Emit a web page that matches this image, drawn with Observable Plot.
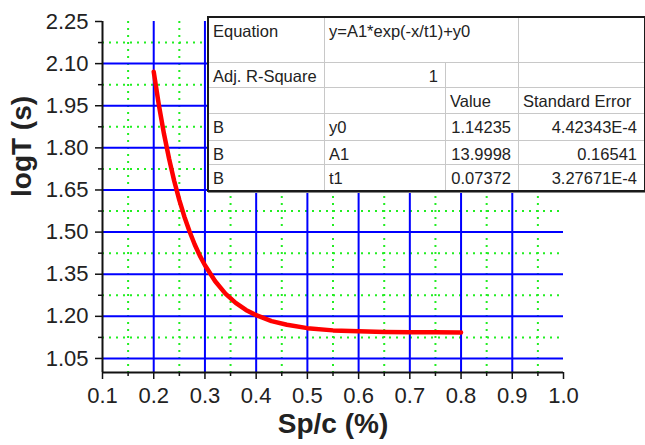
<!DOCTYPE html>
<html>
<head>
<meta charset="utf-8">
<script src="https://cdn.jsdelivr.net/npm/d3@7"></script>
<script src="https://cdn.jsdelivr.net/npm/@observablehq/plot@0.6"></script>
<style>
  html, body { margin: 0; padding: 0; background: #fff; }
  #wrap { position: relative; width: 645px; height: 445px; overflow: hidden; }
  #fit { position: absolute; left: 207px; top: 16px; width: 435px; height: 172px;
         font-family: "Liberation Sans", Arial, sans-serif; font-size: 16.5px; color: #222;
         background: #fff; border: 2px solid #1a1a1a; box-shadow: 1px 1px 0 #888; }
  #fit .c { position: absolute; box-sizing: border-box; border-right: 1px solid #c8c8c8; border-bottom: 1px solid #c8c8c8;
            padding: 4px 7px 0 4px; line-height: 18px; white-space: nowrap; overflow: hidden; }
  #fit .num { text-align: right; }
  #fit .last { border-right: none; }
  #fit .bot { border-bottom: none; }
</style>
</head>
<body>
<div id="wrap"></div>
<script>
// ---- data ----
const xTicks = [0.1, 0.2, 0.3, 0.4, 0.5, 0.6, 0.7, 0.8, 0.9, 1.0];
const xMinor = [0.15, 0.25, 0.35, 0.45, 0.55, 0.65, 0.75, 0.85, 0.95];
const xGrid = [0.2, 0.3, 0.4, 0.5, 0.6, 0.7, 0.8, 0.9];
const yTicks = [1.05, 1.20, 1.35, 1.50, 1.65, 1.80, 1.95, 2.10, 2.25];
const yMinor = [1.125, 1.275, 1.425, 1.575, 1.725, 1.875, 2.025, 2.175];
const yGrid = [1.05, 1.20, 1.35, 1.50, 1.65, 1.80, 1.95, 2.10];

const spc  = [0.20, 0.21, 0.22, 0.23, 0.24, 0.25, 0.26, 0.27, 0.28, 0.29, 0.30, 0.32, 0.34, 0.36, 0.38, 0.40, 0.43, 0.46, 0.50, 0.55, 0.60, 0.65, 0.70, 0.75, 0.80];
const logT = [2.071, 1.953, 1.850, 1.761, 1.682, 1.614, 1.554, 1.502, 1.456, 1.416, 1.382, 1.325, 1.281, 1.248, 1.223, 1.204, 1.183, 1.170, 1.158, 1.150, 1.1465, 1.1444, 1.1434, 1.1429, 1.1426];

const tableRow1 = ["Equation", "y=A1*exp(-x/t1)+y0", ""];
const tableRow2 = ["Adj. R-Square", "1", "", ""];
const tableHeader = ["", "", "Value", "Standard Error"];
const paramGroup = ["B", "B", "B"];
const paramNames = ["y0", "A1", "t1"];
const paramValues = ["1.14235", "13.9998", "0.07372"];
const paramErrors = ["4.42343E-4", "0.16541", "3.27671E-4"];

const xLabel = "Sp/c (%)";
const yLabel = "logT (s)";

// ---- chart ----
const curve = spc.map((x, i) => ({x, y: logT[i]}));
const green = "#22ee22";
const blue = "#0000ff";

const chart = Plot.plot({
  width: 645, height: 445,
  marginLeft: 102, marginRight: 82, marginTop: 21, marginBottom: 73,
  x: {domain: [0.1, 1.0]},
  y: {domain: [1.0, 2.25]},
  style: {fontFamily: "'Liberation Sans', Arial, sans-serif", fontSize: "22px", color: "#222", background: "#fff"},
  marks: [
    Plot.ruleX(xMinor, {stroke: green, strokeWidth: 2, strokeDasharray: "2,5"}),
    Plot.ruleY(yMinor, {stroke: green, strokeWidth: 2, strokeDasharray: "2,5"}),
    Plot.ruleX(xGrid, {stroke: blue, strokeWidth: 2}),
    Plot.ruleY(yGrid, {stroke: blue, strokeWidth: 2}),
    Plot.line(curve, {x: "x", y: "y", stroke: "#ff0000", strokeWidth: 4.5}),
    Plot.axisX(xTicks, {tickFormat: d => d.toFixed(1), tickSize: 7, tickPadding: 8, label: null, stroke: "#111", strokeWidth: 1.5, fontSize: 22}),
    Plot.axisX(xMinor, {fill: "none", tickSize: 4, label: null, stroke: "#111", strokeWidth: 1.5}),
    Plot.axisY(yTicks, {tickFormat: d => d.toFixed(2), tickSize: 7, tickPadding: 7, label: null, stroke: "#111", strokeWidth: 1.5, fontSize: 22}),
    Plot.axisY(yMinor, {fill: "none", tickSize: 4, label: null, stroke: "#111", strokeWidth: 1.5}),
    Plot.ruleY([1.0], {stroke: "#111", strokeWidth: 2}),
    Plot.ruleX([0.1], {stroke: "#111", strokeWidth: 2}),
    Plot.text([xLabel], {frameAnchor: "bottom", dy: 60, fontWeight: "bold", fontSize: 28, fill: "#222"}),
    Plot.text([yLabel], {frameAnchor: "left", dx: -80, rotate: -90, fontWeight: "bold", fontSize: 28, fill: "#222"})
  ]
});
const wrap = document.getElementById("wrap");
wrap.appendChild(chart);

// ---- fit table (absolutely placed cells) ----
const colX = [0, 116, 237, 310, 435];
const rowY = [0, 45, 70, 96, 123, 147, 172];
const t = document.createElement("div");
t.id = "fit";
function cell(r, c0, c1, txt, num) {
  const d = document.createElement("div");
  d.className = "c" + (num ? " num" : "") + (c1 === 4 ? " last" : "") + (r === 5 ? " bot" : "");
  d.style.left = colX[c0] + "px";
  d.style.width = (colX[c1] - colX[c0]) + "px";
  d.style.top = rowY[r] + "px";
  d.style.height = (rowY[r + 1] - rowY[r]) + "px";
  d.textContent = txt;
  t.appendChild(d);
}
cell(0, 0, 1, tableRow1[0]); cell(0, 1, 3, tableRow1[1]); cell(0, 3, 4, tableRow1[2]);
cell(1, 0, 1, tableRow2[0]); cell(1, 1, 2, tableRow2[1], true); cell(1, 2, 3, tableRow2[2]); cell(1, 3, 4, tableRow2[3]);
tableHeader.forEach((h, i) => cell(2, i, i + 1, h));
paramNames.forEach((p, i) => {
  cell(3 + i, 0, 1, paramGroup[i]);
  cell(3 + i, 1, 2, p);
  cell(3 + i, 2, 3, paramValues[i], true);
  cell(3 + i, 3, 4, paramErrors[i], true);
});
wrap.appendChild(t);
</script>
</body>
</html>
